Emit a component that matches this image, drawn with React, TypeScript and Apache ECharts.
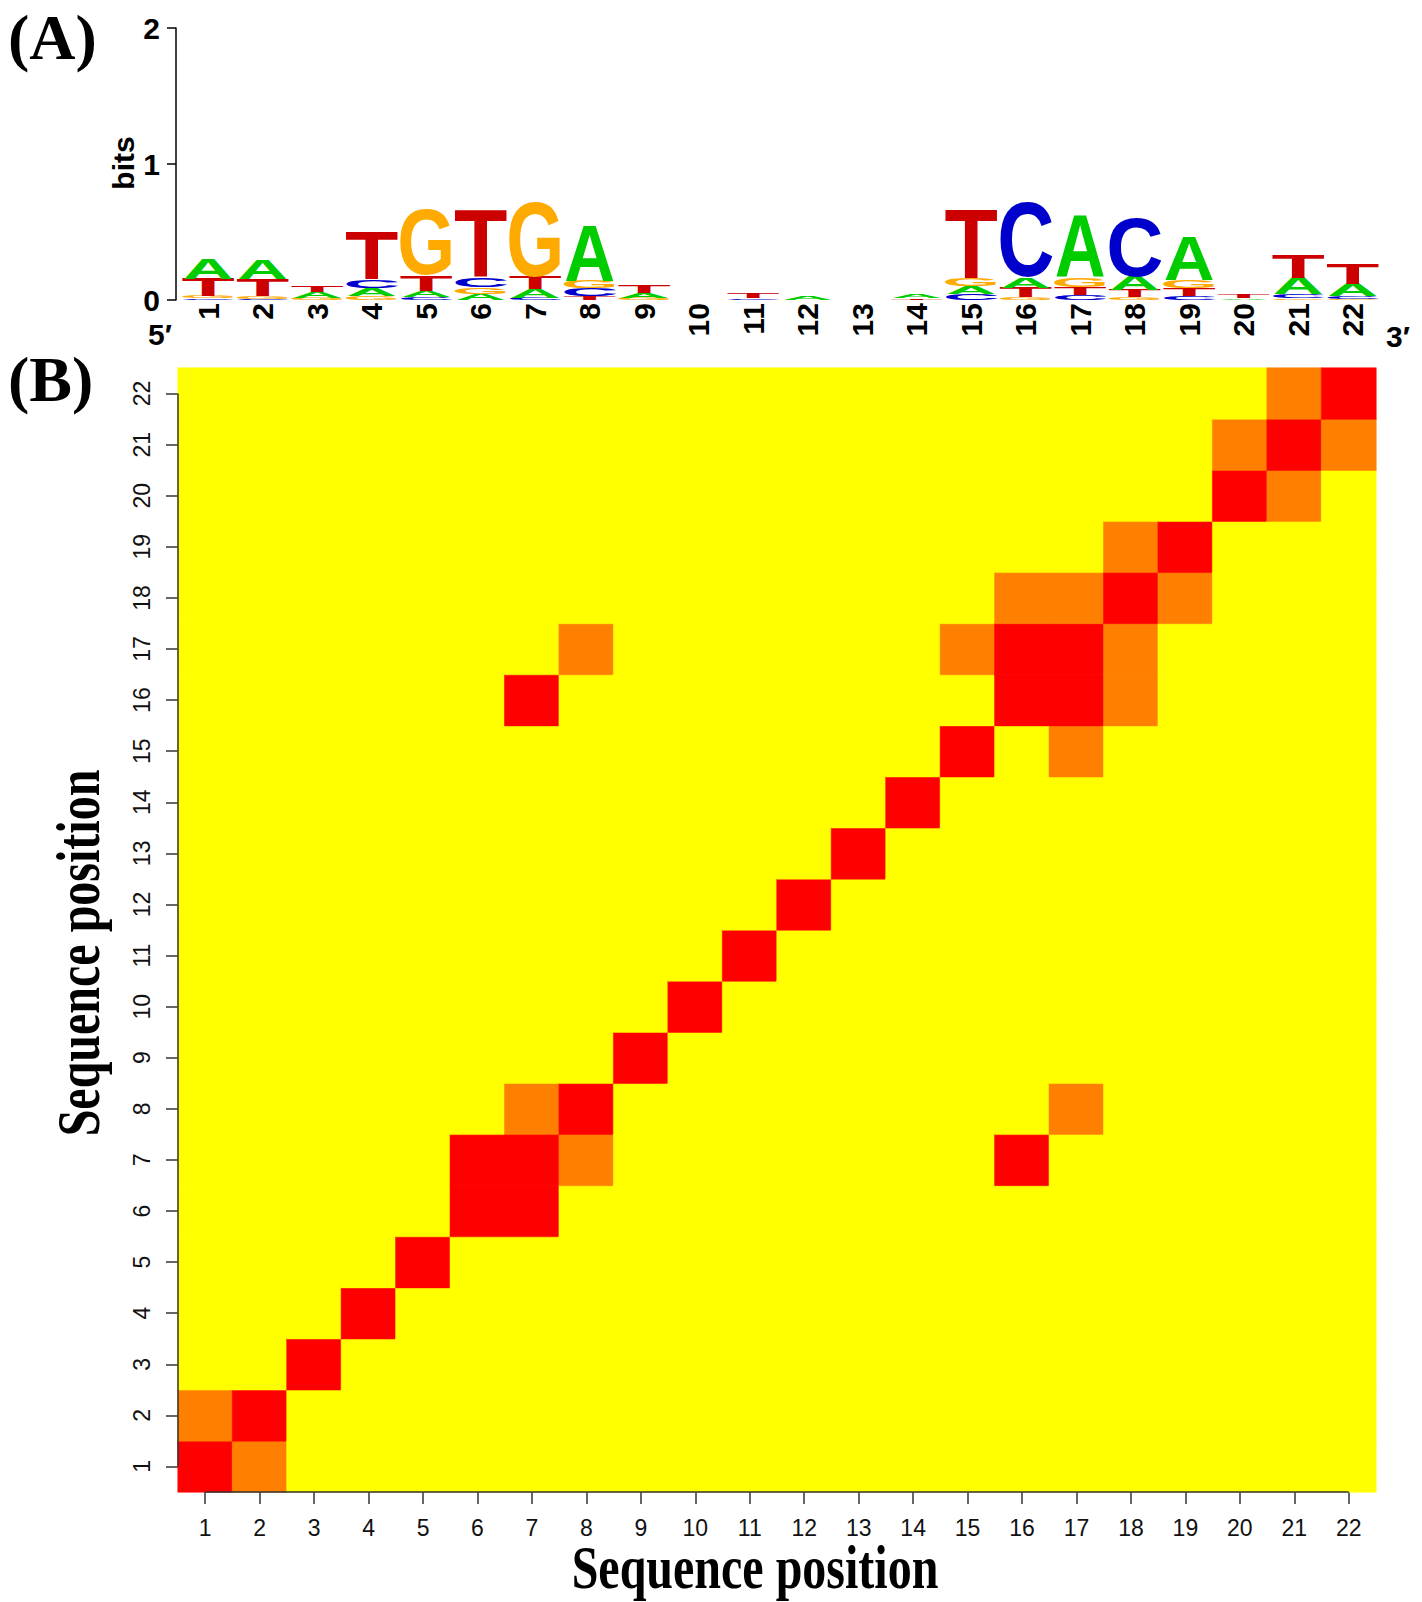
import React, { useEffect, useRef } from "react";
import * as echarts from "echarts";

// ---------- Panel A: sequence logo (bits per nucleotide, positions 1..22) ----------
const positionLabels = ["1", "2", "3", "4", "5", "6", "7", "8", "9", "10", "11", "12", "13", "14", "15", "16", "17", "18", "19", "20", "21", "22"];
const bitsTicks = [0, 1, 2];

const bitsA = [0.15, 0.14, 0.045, 0.058, 0.05, 0.045, 0.065, 0.4, 0.035, 0, 0, 0.025, 0, 0.03, 0.055, 0.075, 0.45, 0.1, 0.32, 0.012, 0.12, 0.09];
const bitsC = [0.012, 0.01, 0, 0.062, 0.02, 0.07, 0.017, 0.055, 0, 0, 0.012, 0, 0, 0, 0.045, 0.56, 0.04, 0.44, 0.03, 0, 0.03, 0.02];
const bitsG = [0.015, 0.017, 0.015, 0.03, 0.49, 0.05, 0.56, 0.06, 0.015, 0, 0, 0, 0, 0, 0.06, 0.02, 0.07, 0.02, 0.062, 0, 0.012, 0.01];
const bitsT = [0.13, 0.125, 0.05, 0.35, 0.11, 0.49, 0.09, 0.03, 0.06, 0, 0.037, 0, 0, 0.012, 0.5, 0.07, 0.055, 0.055, 0.058, 0.03, 0.17, 0.15];

const LETTERS = ["A", "C", "G", "T"];
const LETTER_COLORS = ["#00CC00", "#0000CC", "#FFAA00", "#CC0000"];

// ---------- Panel B: dependency heatmap (0 = none, 1 = medium, 2 = strong) ----------
const redCells = [
  [1, 1], [2, 2], [3, 3], [4, 4], [5, 5], [6, 6], [7, 6], [6, 7], [7, 7], [8, 8], [9, 9], [10, 10],
  [11, 11], [12, 12], [13, 13], [14, 14], [15, 15], [16, 16], [17, 16], [16, 17], [17, 17], [18, 18],
  [19, 19], [20, 20], [21, 21], [22, 22], [7, 16], [16, 7],
];
const orangeCells = [
  [2, 1], [1, 2], [7, 8], [8, 7], [17, 8], [8, 17], [15, 17], [17, 15], [18, 16], [16, 18],
  [18, 17], [17, 18], [19, 18], [18, 19], [21, 20], [20, 21], [22, 21], [21, 22],
];
const LEVEL_COLORS = ["#FFFF00", "#FF8000", "#FF0000"];

// letter glyph metrics (em units) for Liberation Sans Bold
const INK_W = [0.72, 0.64, 0.68, 0.58];
const INK_H = [0.69, 0.715, 0.715, 0.69];

function buildLogoData() {
  const out: number[][] = [];
  for (let i = 0; i < positionLabels.length; i++) {
    const items = [
      [0, bitsA[i]],
      [1, bitsC[i]],
      [2, bitsG[i]],
      [3, bitsT[i]],
    ]
      .filter((d) => d[1] > 0)
      .sort((a, b) => a[1] - b[1]);
    let y = 0;
    for (const [li, h] of items) {
      out.push([i, y, y + h, li]);
      y += h;
    }
  }
  return out;
}

function buildHeatData() {
  const lvl: Record<string, number> = {};
  orangeCells.forEach(([x, y]) => (lvl[x + "," + y] = 1));
  redCells.forEach(([x, y]) => (lvl[x + "," + y] = 2));
  const out: any[] = [];
  for (let x = 1; x <= 22; x++) {
    for (let y = 1; y <= 22; y++) {
      const v = lvl[x + "," + y] || 0;
      out.push({
        value: [x - 1, y - 1, v],
        itemStyle: { color: LEVEL_COLORS[v], borderColor: LEVEL_COLORS[v], borderWidth: 0.5 },
      });
    }
  }
  return out;
}

const SANS = '"Liberation Sans", Arial, Helvetica, sans-serif';
const SERIF = '"Liberation Serif", "Times New Roman", serif';

export default function App() {
  const ref = useRef<HTMLDivElement>(null);

  useEffect(() => {
    if (!ref.current) return;
    const chart = echarts.init(ref.current, null, { renderer: "svg" });
    const logoData = buildLogoData();
    const heatData = buildHeatData();
    const F = 100;

    const option: any = {
      animation: false,
      backgroundColor: "#ffffff",
      grid: [
        { left: 181, top: 28, width: 1199, height: 272 },
        { left: 178, top: 368, width: 1198, height: 1124 },
      ],
      xAxis: [
        {
          type: "category",
          gridIndex: 0,
          data: positionLabels,
          boundaryGap: true,
          axisLine: { show: false },
          axisTick: { show: false },
          splitLine: { show: false },
          axisLabel: {
            interval: 0,
            rotate: 90,
            margin: 3,
            fontSize: 30,
            fontWeight: "bold",
            fontFamily: SANS,
            color: "#000",
          },
        },
        {
          type: "category",
          gridIndex: 1,
          data: positionLabels,
          boundaryGap: true,
          axisLine: { show: false },
          axisTick: { show: true, alignWithLabel: true, interval: 0, length: 12, lineStyle: { color: "#333", width: 1.5 } },
          splitLine: { show: false },
          axisLabel: { interval: 0, margin: 24, fontSize: 23, fontFamily: SANS, color: "#111" },
        },
        { type: "value", gridIndex: 1, min: 0.5, max: 22.5, show: false },
      ],
      yAxis: [
        {
          type: "value",
          gridIndex: 0,
          min: 0,
          max: 2,
          interval: 1,
          offset: 5,
          axisLine: { show: true, lineStyle: { color: "#000", width: 1.5 } },
          axisTick: { show: true, length: 9, lineStyle: { color: "#000", width: 1.5 } },
          splitLine: { show: false },
          axisLabel: {
            margin: 16,
            fontSize: 30,
            fontWeight: "bold",
            fontFamily: SANS,
            color: "#000",
            formatter: (v: number) => (bitsTicks.indexOf(v) >= 0 ? String(v) : ""),
          },
        },
        {
          type: "category",
          gridIndex: 1,
          data: positionLabels,
          boundaryGap: true,
          axisLine: { show: false },
          axisTick: { show: true, alignWithLabel: true, interval: 0, length: 12, lineStyle: { color: "#333", width: 1.5 } },
          splitLine: { show: false },
          axisLabel: { interval: 0, rotate: 90, margin: 25, fontSize: 23, fontFamily: SANS, color: "#111" },
        },
        { type: "value", gridIndex: 1, min: 0.5, max: 22.5, show: false },
      ],
      visualMap: {
        type: "piecewise",
        show: false,
        seriesIndex: 1,
        dimension: 2,
        pieces: [
          { value: 0, color: LEVEL_COLORS[0] },
          { value: 1, color: LEVEL_COLORS[1] },
          { value: 2, color: LEVEL_COLORS[2] },
        ],
      },
      series: [
        {
          type: "custom",
          xAxisIndex: 0,
          yAxisIndex: 0,
          clip: false,
          silent: true,
          encode: { x: 0, y: [1, 2] },
          data: logoData,
          renderItem: (params: any, api: any) => {
            const idx = api.value(0);
            const y0 = api.value(1);
            const y1 = api.value(2);
            const li = api.value(3);
            const pb = api.coord([idx, y0]);
            const pt = api.coord([idx, y1]);
            const band = api.size([1, 0])[0];
            const w = band * 0.93;
            const h = Math.max(pb[1] - pt[1], 0.6);
            return {
              type: "text",
              x: pb[0],
              y: (pb[1] + pt[1]) / 2,
              scaleX: w / (INK_W[li] * F),
              scaleY: h / (INK_H[li] * F),
              style: {
                text: LETTERS[li],
                x: 0,
                y: 0,
                fontSize: F,
                fontWeight: "bold",
                fontFamily: SANS,
                fill: LETTER_COLORS[li],
                align: "center",
                verticalAlign: "middle",
              },
            };
          },
        },
        {
          type: "heatmap",
          xAxisIndex: 1,
          yAxisIndex: 1,
          data: heatData,
          silent: true,
          emphasis: { disabled: true },
        },
        {
          type: "line",
          xAxisIndex: 2,
          yAxisIndex: 2,
          data: [[1, 0.5], [22, 0.5]],
          symbol: "none",
          clip: false,
          silent: true,
          z: 5,
          lineStyle: { color: "#333", width: 1.5 },
        },
        {
          type: "line",
          xAxisIndex: 2,
          yAxisIndex: 2,
          data: [[0.5, 1], [0.5, 22]],
          symbol: "none",
          clip: false,
          silent: true,
          z: 5,
          lineStyle: { color: "#333", width: 1.5 },
        },
      ],
      graphic: [
        {
          type: "text",
          x: 8,
          y: 37,
          style: { text: "(A)", x: 0, y: 0, fontSize: 64, fontWeight: "bold", fontFamily: SERIF, fill: "#000", align: "left", verticalAlign: "middle" },
        },
        {
          type: "text",
          x: 8,
          y: 379,
          style: { text: "(B)", x: 0, y: 0, fontSize: 64, fontWeight: "bold", fontFamily: SERIF, fill: "#000", align: "left", verticalAlign: "middle" },
        },
        {
          type: "text",
          x: 123,
          y: 163,
          rotation: Math.PI / 2,
          style: { text: "bits", x: 0, y: 0, fontSize: 30, fontWeight: "bold", fontFamily: SANS, fill: "#000", align: "center", verticalAlign: "middle" },
        },
        {
          type: "text",
          x: 160,
          y: 334,
          style: { text: "5′", x: 0, y: 0, fontSize: 30, fontWeight: "bold", fontFamily: SANS, fill: "#000", align: "center", verticalAlign: "middle" },
        },
        {
          type: "text",
          x: 1398,
          y: 336,
          style: { text: "3′", x: 0, y: 0, fontSize: 30, fontWeight: "bold", fontFamily: SANS, fill: "#000", align: "center", verticalAlign: "middle" },
        },
        {
          type: "text",
          x: 755,
          y: 1567,
          scaleY: 1.27,
          style: { text: "Sequence position", x: 0, y: 0, fontSize: 48, fontWeight: "bold", fontFamily: SERIF, fill: "#000", align: "center", verticalAlign: "middle" },
        },
        {
          type: "text",
          x: 78,
          y: 953,
          rotation: Math.PI / 2,
          scaleY: 1.27,
          style: { text: "Sequence position", x: 0, y: 0, fontSize: 48, fontWeight: "bold", fontFamily: SERIF, fill: "#000", align: "center", verticalAlign: "middle" },
        },
      ],
    };

    chart.setOption(option);
    return () => chart.dispose();
  }, []);

  return (
    <div
      ref={ref}
      style={{ position: "absolute", left: 0, top: 0, width: 1422, height: 1602, background: "#fff" }}
    />
  );
}
